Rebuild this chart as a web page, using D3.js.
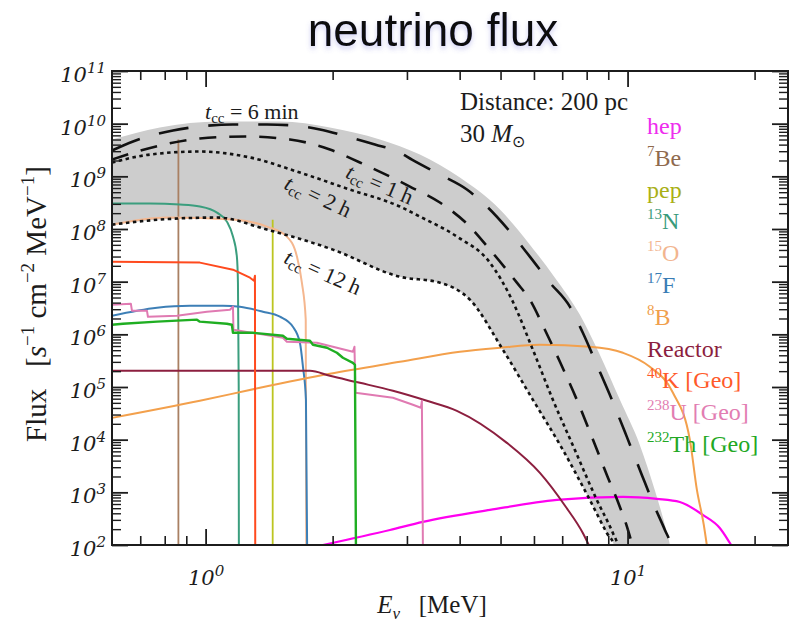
<!DOCTYPE html>
<html>
<head>
<meta charset="utf-8">
<script src="https://cdn.jsdelivr.net/npm/d3@7"></script>
<style>
  html, body { margin: 0; padding: 0; background: #ffffff; }
  svg { display: block; }
</style>
</head>
<body>
<svg id="chart" width="790" height="633"></svg>
<script>
// ---------------- data ----------------
// axis ranges (MeV, s^-1 cm^-2 MeV^-1)
const energyDomain = [0.6, 24];
const fluxDomain = [1e2, 1e11];
const xMajorTicks = [1, 10];
const xMinorTicks = [0.7, 0.8, 0.9, 2, 3, 4, 5, 6, 7, 8, 9, 20];
const yMajorExponents = [2, 3, 4, 5, 6, 7, 8, 9, 10, 11];
const yMinorMultipliers = [2, 3, 4, 5, 6, 7, 8, 9];

// supernova pre-collapse flux envelopes, [energy, flux]
const bandTop = [[0.600,5.01e9],[0.779,8.47e9],[1.081,1.10e10],[1.500,1.10e10],[1.970,8.47e9],[2.588,5.01e9],[3.220,2.59e9],[4.005,9.48e8],[4.983,2.34e8],[5.867,5.05e7],[6.727,1.19e7],[7.709,2.36e6],[8.597,4.09e5],[9.590,5.71e4],[10.69,7.96e3],[11.60,1.11e3],[12.26,240],[12.60,100],[12.75,60]];
const tcc6min = [[0.600,3.09e9],[0.673,4.59e9],[0.837,7.43e9],[0.969,8.85e9],[1.161,9.66e9],[1.397,9.66e9],[1.610,9.27e9],[1.866,7.76e9],[2.162,5.71e9],[2.519,4.03e9],[2.887,2.83e9],[3.083,2.08e9],[3.591,1.08e9],[4.161,5.61e8],[4.641,2.67e8],[5.262,8.93e7],[5.867,2.99e7],[6.546,9.57e6],[7.299,3.35e6],[7.834,1.07e6],[8.455,2.64e5],[9.181,5.71e4],[9.961,1.13e4],[10.81,2.14e3],[11.60,527],[12.26,193],[12.67,100],[12.80,70]];
const tcc1h = [[0.600,2.08e9],[0.779,3.85e9],[0.969,5.23e9],[1.239,5.71e9],[1.584,5.01e9],[1.970,3.24e9],[2.321,1.83e9],[2.734,9.91e8],[3.049,6.40e8],[3.591,3.18e8],[4.230,1.11e8],[4.718,4.06e7],[5.466,9.57e6],[5.867,4.55e6],[6.368,1.22e6],[6.913,3.01e5],[7.583,5.71e4],[8.230,1.13e4],[8.931,2.14e3],[9.590,527],[10.02,193],[10.24,100],[10.32,70]];
const tcc2h = [[0.600,1.83e9],[0.738,2.59e9],[0.969,2.96e9],[1.274,2.28e9],[1.673,1.18e9],[2.197,5.61e8],[2.887,2.67e8],[3.220,1.72e8],[3.940,7.18e7],[4.718,2.30e7],[5.319,4.55e6],[5.965,5.09e5],[6.653,5.71e4],[7.500,6.40e3],[8.455,718],[9.23,169],[9.48,100],[9.58,70]];
const tcc12h = [[0.600,1.21e8],[0.779,1.51e8],[1.064,1.65e8],[1.397,9.75e7],[2.003,4.06e7],[2.887,1.24e7],[3.591,9.57e6],[4.230,4.55e6],[5.065,5.09e5],[5.965,5.71e4],[7.025,6.40e3],[8.139,718],[8.931,169],[9.28,100],[9.40,60]];

// background sources, [energy, flux]
const hep = [[1.897,100],[2.734,193],[3.273,274],[4.718,463],[6.801,718],[9.75,818],[11.73,750],[13.30,656],[15.08,372],[16.54,210],[17.48,109],[17.6,100]];
const be7 = [[0.862,100],[0.862,5.0e9]];
const pep = [[1.442,100],[1.442,1.5e8]];
const n13 = [[0.600,3.04e8],[0.738,3.04e8],[0.869,2.91e8],[0.969,2.67e8],[1.064,2.05e8],[1.123,1.38e8],[1.161,7.18e7],[1.186,2.99e7],[1.193,9.57e6],[1.198,1e5],[1.199,100]];
const o15 = [[0.600,1.21e8],[0.810,1.65e8],[1.161,1.51e8],[1.397,1.11e8],[1.558,7.18e7],[1.646,2.99e7],[1.691,9.57e6],[1.727,1.9e6],[1.732,100]];
const f17 = [[0.600,2.26e6],[0.767,3.21e6],[0.918,3.50e6],[1.099,3.50e6],[1.206,3.35e6],[1.367,2.69e6],[1.500,2.16e6],[1.610,1.39e6],[1.673,6.92e5],[1.701,2.42e5],[1.729,5.71e4],[1.740,100]];
const b8 = [[0.600,2.59e4],[0.969,5.47e4],[1.345,9.66e4],[1.970,1.78e5],[2.887,3.01e5],[4.005,4.67e5],[4.983,5.56e5],[6.198,6.34e5],[8.139,5.81e5],[9.75,4.47e5],[11.29,2.42e5],[12.81,7.76e4],[14.05,9.91e3],[14.60,1.11e3],[15.16,240],[15.41,100]];
const reactor = [[0.600,2.03e5],[1.767,2.03e5],[1.970,1.63e5],[2.321,1.20e5],[2.779,8.47e4],[3.345,5.47e4],[3.940,3.53e4],[5.176,8.69e3],[6.198,2.34e3],[7.143,527],[7.834,169],[8.094,100]];
const k40 = [[0.600,2.40e7],[0.969,2.30e7],[1.161,1.69e7],[1.274,1.19e7],[1.302,1.04e7],[1.309,1.30e7],[1.311,100]];
const u238 = [[0.600,3.66e6],[0.665,3.82e6],[0.669,2.81e6],[0.726,2.81e6],[0.730,2.16e6],[0.855,2.26e6],[1.007,2.69e6],[1.142,2.94e6],[1.161,3.35e6],[1.164,1.22e6],[1.525,8.61e5],[1.558,7.22e5],[1.835,6.92e5],[2.234,4.67e5],[2.253,5.81e5],[2.265,7.76e4],[2.779,6.24e4],[3.099,4.59e4],[3.237,4.03e4],[3.255,5.47e4],[3.273,100]];
const th232 = [[0.600,1.52e6],[0.637,1.59e6],[0.767,1.74e6],[0.954,1.90e6],[0.969,1.74e6],[1.123,1.59e6],[1.154,1.52e6],[1.161,1.07e6],[1.295,1.07e6],[1.525,9.39e5],[1.558,8.24e5],[1.767,7.55e5],[1.796,6.34e5],[1.939,5.56e5],[2.047,4.47e5],[2.115,3.59e5],[2.234,2.88e5],[2.259,2.64e5],[2.271,100]];

// legend entries: isotope mass number and name
const legendSup = ["", "7", "", "13", "15", "17", "8", "", "40", "238", "232"];
const legendNames = ["hep", "Be", "pep", "N", "O", "F", "B", "Reactor", "K [Geo]", "U [Geo]", "Th [Geo]"];

// ---------------- styles ----------------
const sourceStyles = [
  { data: hep,     color: "#ff00f0", width: 2.2, curve: d3.curveMonotoneX },
  { data: be7,     color: "#a98063", width: 1.8, curve: d3.curveLinear },
  { data: pep,     color: "#bcc520", width: 1.8, curve: d3.curveLinear },
  { data: n13,     color: "#3b9e7e", width: 2.0, curve: d3.curveMonotoneX },
  { data: o15,     color: "#f5b78f", width: 2.0, curve: d3.curveMonotoneX },
  { data: f17,     color: "#3d7fb6", width: 2.0, curve: d3.curveMonotoneX },
  { data: b8,      color: "#f3a04c", width: 2.0, curve: d3.curveMonotoneX },
  { data: reactor, color: "#8c1f3f", width: 2.0, curve: d3.curveMonotoneX },
  { data: k40,     color: "#ff4a1e", width: 2.0, curve: d3.curveLinear },
  { data: u238,    color: "#e07ab2", width: 2.0, curve: d3.curveLinear },
  { data: th232,   color: "#1fae22", width: 2.4, curve: d3.curveLinear }
];
const legendColors = ["#ee2cee", "#8f6a4e", "#a9b016", "#3a9b7b", "#f2b58f", "#3a7db5", "#f0a04c", "#8c1f3f", "#ff5a2a", "#e27db2", "#22a824"];

const plot = { left: 112, right: 788, top: 71, bottom: 545 };
const svg = d3.select("#chart");
const ink = "#1c1c1c";
const serif = "'Liberation Serif', 'Times New Roman', serif";

const x = d3.scaleLog().domain(energyDomain).range([plot.left, plot.right]);
const y = d3.scaleLog().domain(fluxDomain).range([plot.bottom, plot.top]);

const defs = svg.append("defs");
defs.append("clipPath").attr("id", "plotClip")
  .append("rect").attr("x", plot.left).attr("y", plot.top)
  .attr("width", plot.right - plot.left).attr("height", plot.bottom - plot.top);
const glow = defs.append("filter").attr("id", "titleGlow")
  .attr("x", "-10%").attr("y", "-30%").attr("width", "120%").attr("height", "170%");
glow.append("feDropShadow").attr("dx", 0).attr("dy", 3).attr("stdDeviation", 2.5)
  .attr("flood-color", "#5a5ad0").attr("flood-opacity", 0.3);

// ---------------- title ----------------
svg.append("text")
  .attr("x", 433).attr("y", 46)
  .attr("text-anchor", "middle")
  .attr("font-family", "'Liberation Sans', Arial, sans-serif")
  .attr("font-size", 46).attr("fill", "#111")
  .attr("filter", "url(#titleGlow)")
  .text("neutrino flux");

// ---------------- plot content ----------------
const lineGen = (curve) => d3.line().x(d => x(d[0])).y(d => y(d[1])).curve(curve);
const content = svg.append("g").attr("clip-path", "url(#plotClip)");

// shaded band between the earliest and latest pre-collapse stages
const bandLine = lineGen(d3.curveMonotoneX);
const bandPath = bandLine(bandTop) + bandLine(tcc12h.slice().reverse()).replace(/^M/, "L") + "Z";
content.append("path").attr("d", bandPath).attr("fill", "#cdcdcd").attr("stroke", "none");

sourceStyles.forEach(s => {
  content.append("path")
    .attr("d", lineGen(s.curve)(s.data))
    .attr("fill", "none")
    .attr("stroke", s.color)
    .attr("stroke-width", s.width)
    .attr("stroke-linejoin", "round");
});

const stageStyles = [
  { data: tcc6min, dash: "30,20", width: 2.6 },
  { data: tcc1h,   dash: "17,13", width: 2.6 },
  { data: tcc2h,   dash: "3.5,3.5", width: 2.6 },
  { data: tcc12h,  dash: "3.5,3.5", width: 2.6 }
];
stageStyles.forEach(s => {
  content.append("path")
    .attr("d", lineGen(d3.curveMonotoneX)(s.data))
    .attr("fill", "none")
    .attr("stroke", "#111")
    .attr("stroke-width", s.width)
    .attr("stroke-dasharray", s.dash);
});

// ---------------- axes ----------------
const yMinorTicks = [];
yMajorExponents.slice(0, -1).forEach(e => yMinorMultipliers.forEach(m => yMinorTicks.push(m * Math.pow(10, e))));
const yMajorTicks = yMajorExponents.map(e => Math.pow(10, e));

function tidy(g, w) {
  g.select(".domain").remove();
  g.selectAll(".tick line").attr("stroke", ink).attr("stroke-width", w);
}
function powerLabels(g, fontSize, supSize, supShift) {
  g.selectAll(".tick text").each(function(d) {
    const t = d3.select(this);
    t.text(null)
      .attr("font-family", "'DejaVu Serif', serif")
      .attr("font-style", "italic")
      .attr("font-size", fontSize)
      .attr("fill", ink);
    t.append("tspan").text("10");
    t.append("tspan").attr("font-size", supSize).attr("dy", -supShift)
      .text(Math.round(Math.log10(d)));
  });
}

// bottom
svg.append("g").attr("transform", `translate(0,${plot.bottom})`)
  .call(d3.axisBottom(x).tickValues(xMinorTicks).tickSize(-9).tickSizeOuter(0).tickFormat(""))
  .call(g => tidy(g, 1.6));
svg.append("g").attr("transform", `translate(0,${plot.bottom})`)
  .call(d3.axisBottom(x).tickValues(xMajorTicks).tickSize(-16).tickSizeOuter(0).tickPadding(25).tickFormat(""))
  .call(g => tidy(g, 1.8))
  .call(g => powerLabels(g, 21, 15, 9));
// top
svg.append("g").attr("transform", `translate(0,${plot.top})`)
  .call(d3.axisTop(x).tickValues(xMinorTicks).tickSize(-9).tickSizeOuter(0).tickFormat(""))
  .call(g => tidy(g, 1.6));
svg.append("g").attr("transform", `translate(0,${plot.top})`)
  .call(d3.axisTop(x).tickValues(xMajorTicks).tickSize(-16).tickSizeOuter(0).tickFormat(""))
  .call(g => tidy(g, 1.8));
// left
svg.append("g").attr("transform", `translate(${plot.left},0)`)
  .call(d3.axisLeft(y).tickValues(yMinorTicks).tickSize(-9).tickSizeOuter(0).tickFormat(""))
  .call(g => tidy(g, 1.4));
svg.append("g").attr("transform", `translate(${plot.left},0)`)
  .call(d3.axisLeft(y).tickValues(yMajorTicks).tickSize(-16).tickSizeOuter(0).tickPadding(6).tickFormat(""))
  .call(g => tidy(g, 1.8))
  .call(g => powerLabels(g, 21, 15, 9))
  .call(g => g.selectAll(".tick text").attr("dy", "0.5em"));
// right
svg.append("g").attr("transform", `translate(${plot.right},0)`)
  .call(d3.axisRight(y).tickValues(yMinorTicks).tickSize(-9).tickSizeOuter(0).tickFormat(""))
  .call(g => tidy(g, 1.4));
svg.append("g").attr("transform", `translate(${plot.right},0)`)
  .call(d3.axisRight(y).tickValues(yMajorTicks).tickSize(-16).tickSizeOuter(0).tickFormat(""))
  .call(g => tidy(g, 1.8));

// frame
svg.append("rect")
  .attr("x", plot.left).attr("y", plot.top)
  .attr("width", plot.right - plot.left).attr("height", plot.bottom - plot.top)
  .attr("fill", "none").attr("stroke", ink).attr("stroke-width", 2);

// ---------------- axis titles ----------------
const xTitle = svg.append("text")
  .attr("x", 432).attr("y", 613).attr("text-anchor", "middle")
  .attr("font-family", serif).attr("font-size", 25).attr("fill", ink);
xTitle.append("tspan").attr("font-style", "italic").text("E");
xTitle.append("tspan").attr("font-style", "italic").attr("font-size", 17).attr("dy", 6).text("ν");
xTitle.append("tspan").attr("dy", -6).text("\u00a0\u00a0\u00a0[MeV]");

const yTitle = svg.append("text")
  .attr("transform", "translate(46,304) rotate(-90)")
  .attr("text-anchor", "middle")
  .attr("font-family", serif).attr("font-size", 29).attr("fill", ink);
yTitle.append("tspan").text("Flux\u00a0\u00a0\u00a0[");
yTitle.append("tspan").attr("font-style", "italic").text("s");
yTitle.append("tspan").attr("font-size", 19).attr("dy", -12).text("−1");
yTitle.append("tspan").attr("dy", 12).text("\u00a0cm");
yTitle.append("tspan").attr("font-size", 19).attr("dy", -12).text("−2");
yTitle.append("tspan").attr("dy", 12).text("\u00a0MeV");
yTitle.append("tspan").attr("font-size", 19).attr("dy", -12).text("−1");
yTitle.append("tspan").attr("dy", 12).text("]");

// ---------------- annotations ----------------
function stageLabel(cx, cy, angle, value, anchor) {
  const t = svg.append("text")
    .attr("transform", `translate(${cx},${cy}) rotate(${angle})`)
    .attr("text-anchor", anchor)
    .attr("font-family", serif).attr("font-size", 22).attr("fill", ink);
  t.append("tspan").attr("font-style", "italic").text("t");
  t.append("tspan").attr("font-size", 15).attr("dy", 4).text("cc");
  t.append("tspan").attr("dy", -4).text(" = " + value);
}
stageLabel(205, 119, 0, "6 min", "start");
stageLabel(377, 191, 23, "1 h", "middle");
stageLabel(315, 203, 25, "2 h", "middle");
stageLabel(320, 279, 24, "12 h", "middle");

const info = svg.append("g").attr("font-family", serif).attr("font-size", 25).attr("fill", ink);
info.append("text").attr("x", 460).attr("y", 110).text("Distance: 200 pc");
const mass = info.append("text").attr("x", 460).attr("y", 142);
mass.append("tspan").text("30 ");
mass.append("tspan").attr("font-style", "italic").text("M");
mass.append("tspan").attr("font-size", 16).attr("dy", 5).text("⊙");

// ---------------- legend ----------------
const legend = svg.append("g").attr("font-family", serif).attr("font-size", 24);
legendNames.forEach((name, i) => {
  const t = legend.append("text")
    .attr("x", 647).attr("y", 134 + i * 31.8)
    .attr("fill", legendColors[i]);
  if (legendSup[i]) {
    t.append("tspan").attr("font-size", 15).attr("dy", -10).text(legendSup[i]);
    t.append("tspan").attr("dy", 10).text(name);
  } else {
    t.append("tspan").text(name);
  }
});
</script>
</body>
</html>
